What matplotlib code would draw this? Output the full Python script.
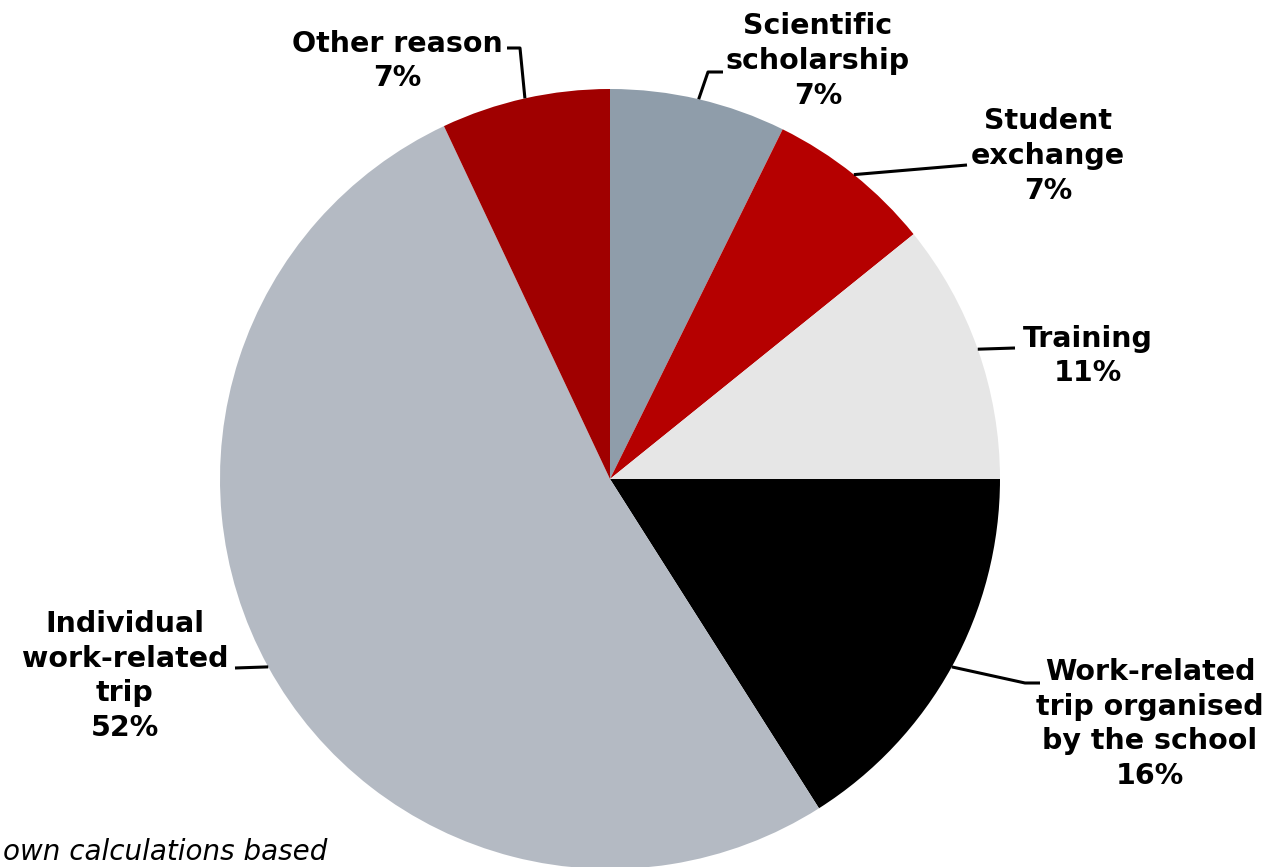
import numpy as np
import matplotlib.pyplot as plt

# Reasons for trips abroad (share, %)
labels = ['Scientific\nscholarship', 'Student\nexchange', 'Training',
          'Work-related\ntrip organised\nby the school',
          'Individual\nwork-related\ntrip', 'Other reason']
pct_text = ['7%', '7%', '11%', '16%', '52%', '7%']
shares = [7.3, 6.9, 10.8, 16.0, 52.0, 7.0]
colors = ['#8F9DAA', '#B50000', '#E6E6E6', '#000000', '#B4BAC3', '#A00000']

W, H = 1270, 867
CX, CY, R = 610, 479, 390


def px(x, y):
    # picture pixel -> data units of the pie axes
    return (x - CX) / R, (CY - y) / R


fig = plt.figure(figsize=(12.7, 8.67), dpi=100)
ax = fig.add_axes([(CX - R) / W, (H - CY - R) / H, 2 * R / W, 2 * R / H])
wedges, _ = ax.pie(shares, colors=colors, startangle=90, counterclock=False,
                   radius=1, wedgeprops=dict(linewidth=0))
ax.set_xlim(-1, 1)
ax.set_ylim(-1, 1)
ax.set_aspect('equal')
ax.axis('off')

# label position (centre of text block) and leader-line bend points
label_pos = [(818, 61), (1048, 156), (1088, 356), (1150, 724), (125, 676), (397, 61)]
bends = [
    [(708, 72), (723, 72)],
    [(967, 165)],
    [(1015, 348)],
    [(1025, 683), (1040, 683)],
    [(235, 668)],
    [(520, 48), (507, 48)],
]

for w, lab, pct, pos, bend in zip(wedges, labels, pct_text, label_pos, bends):
    ang = np.deg2rad((w.theta1 + w.theta2) / 2)
    xs = [np.cos(ang)]
    ys = [np.sin(ang)]
    for b in bend:
        bx, by = px(*b)
        xs.append(bx)
        ys.append(by)
    ax.plot(xs, ys, color='black', lw=2.2, clip_on=False, solid_capstyle='butt')
    tx, ty = px(*pos)
    ax.text(tx, ty, lab + '\n' + pct, ha='center', va='center', fontsize=20.5,
            fontweight='bold', linespacing=1.3, clip_on=False)

fig.text(327 / W, 1 - 852 / H, 'own calculations based', ha='right',
         va='center', fontsize=20, style='italic')

fig.savefig('out.png', dpi=100)
